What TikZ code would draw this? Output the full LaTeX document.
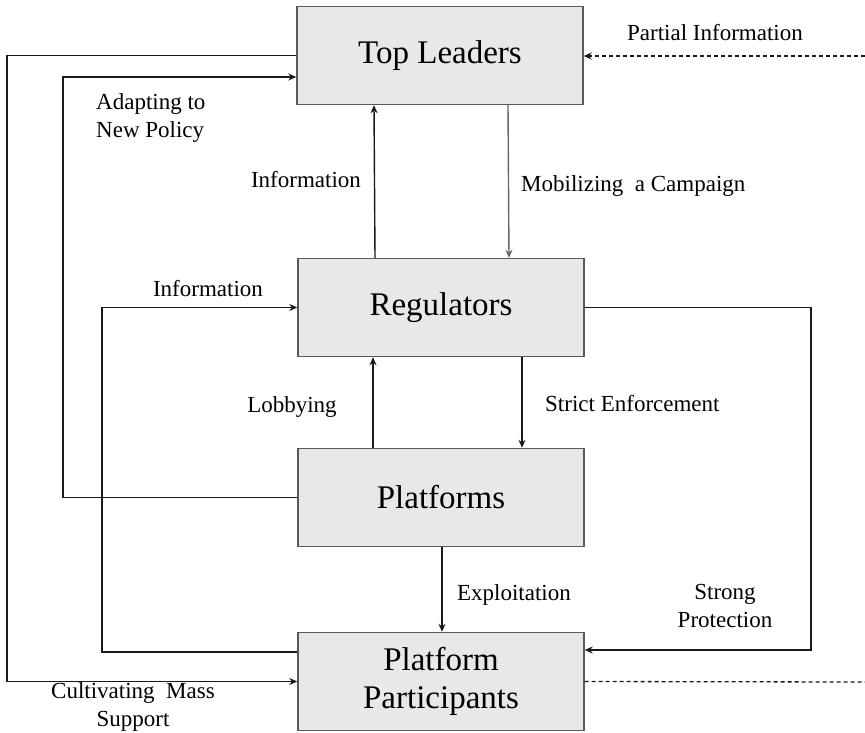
\documentclass[tikz,border=0pt]{standalone}
\usepackage{fontspec}
\setmainfont{Liberation Serif}
\usetikzlibrary{arrows.meta}
\begin{document}
\begin{tikzpicture}[x=1pt,y=-1pt,
  box/.style={draw=black!65,line width=1.4pt,fill=black!9,minimum width=286pt,minimum height=98pt,inner sep=0pt,align=center,font=\fontsize{33}{38}\selectfont},
  lbl/.style={inner sep=0pt,font=\fontsize{23}{27.6}\selectfont},
  conn/.style={line width=1.4pt,draw=black!90},
  arr/.style={conn,-{Stealth[length=8pt,width=7pt]}},
  dsh/.style={line width=1.3pt,draw=black!90,dash pattern=on 4pt off 3pt}]
\useasboundingbox (0,0) rectangle (865,732);
\node[box] (TL) at (440,55.5) {Top Leaders};
\node[box] (RG) at (441,307.5) {Regulators};
\node[box] (PF) at (441,497.5) {Platforms};
\node[box] (PP) at (441,681.5) {Platform\\Participants};
\coordinate (xO) at (7,0);
\coordinate (xA) at (63,0);
\coordinate (xI) at (102,0);
\coordinate (xR) at (811,0);
\coordinate (pinR) at (865,56);
\coordinate (poR) at (865,682);
% vertical arrows
\draw[arr] ([xshift=-66pt]RG.north) -- ([xshift=-66pt]TL.south);
\draw[arr,draw=black!60] ([xshift=68pt]TL.south) -- ([xshift=68pt]RG.north);
\draw[arr] ([xshift=-68pt]PF.north) -- ([xshift=-68pt]RG.south);
\draw[arr] ([xshift=81pt]RG.south) -- ([xshift=81pt]PF.north);
\draw[arr] ([xshift=1pt]PF.south) -- ([xshift=1pt]PP.north);
% loops
\draw[arr] (TL.west) -- (TL.west -| xO) |- (PP.west);
\draw[arr] (PF.west) -- (PF.west -| xA) |- ([yshift=-21.5pt]TL.west);
\draw[arr] ([yshift=29.5pt]PP.west) -- ([yshift=29.5pt]PP.west -| xI) |- (RG.west);
\draw[arr] (RG.east) -- (RG.east -| xR) |- ([yshift=31.5pt]PP.east);
% dashed
\draw[dsh,-{Stealth[length=8pt,width=7pt]}] (pinR) -- (pinR -| TL.east);
\draw[dsh] (PP.east) -- (poR);
% labels
\node[lbl] (l1) at (715,33) {Partial Information};
\node[lbl,anchor=west,align=left] (l2) at (96,118) {Adapting to\\New Policy};
\node[lbl] (l3) at (306,180) {Information};
\node[lbl,anchor=west] (l4) at (521,186) {Mobilizing\ \ a\ Campaign};
\node[lbl] (l5) at (208,289) {Information};
\node[lbl] (l6) at (292,407) {Lobbying};
\node[lbl,anchor=west] (l7) at (545,404) {Strict Enforcement};
\node[lbl] (l8) at (514,595) {Exploitation};
\node[lbl,align=center] (l9) at (725,606) {Strong\\Protection};
\node[lbl,align=center] (l10) at (133,707) {Cultivating\ \ Mass\\Support};
\end{tikzpicture}
\end{document}
